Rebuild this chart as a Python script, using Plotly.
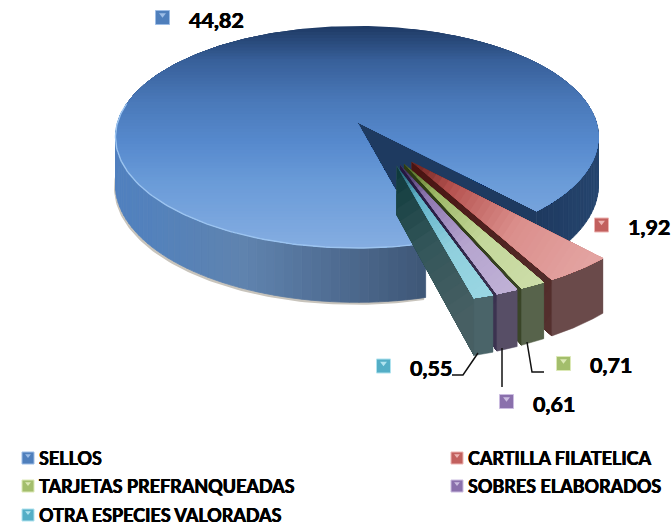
import math
import plotly.graph_objects as go

# ---- data
names = ["SELLOS", "CARTILLA FILATELICA", "TARJETAS PREFRANQUEADAS", "SOBRES ELABORADOS", "OTRA ESPECIES VALORADAS"]
values = [44.82, 1.92, 0.71, 0.61, 0.55]
labels = ["44,82", "1,92", "0,71", "0,61", "0,55"]

# ---- styling
swatch = ["#4F7FBC", "#C2605E", "#A3BE6C", "#8A70AC", "#54AEC6"]
swatch_light = ["#9DBDE6", "#EDB4B2", "#DCE9B6", "#CBBCE0", "#B0E3EF"]
top_ramp = [
    [(0, "#6E2220"), (.22, "#B5524F"), (.6, "#DB8F8C"), (1, "#E3A3A1")],
    [(0, "#4E6520"), (.22, "#9DB765"), (.6, "#C4D79B"), (1, "#CCDDA8")],
    [(0, "#3B2A5A"), (.22, "#8C75AE"), (.6, "#B5A4CE"), (1, "#C0B1D6")],
    [(0, "#1D5A6C"), (.22, "#5FB0C6"), (.6, "#8FCFDD"), (1, "#9AD6E3")],
]
side_ramp = [
    [(0, "#4A1412"), (1, "#54302E")],
    [(0, "#2C3A12"), (1, "#3A4528")],
    [(0, "#241840"), (1, "#3C3350")],
    [(0, "#0F3A3C"), (.5, "#34565A"), (1, "#475F63")],
]
rim_col = ["#6A4A4A", "#57634B", "#574E66", "#4A6469"]
big_top = [(0, "#1F3B66"), (.15, "#38609A"), (.33, "#4A79B9"), (.51, "#5689CD"),
           (.69, "#6A9BD8"), (1, "#86AEE2")]
big_rim = [(117, "#5080BF"), (170, "#5582BA"), (250, "#5F83AE"), (340, "#4F6C92"), (425, "#3F5878")]
big_back = [(535, "#1E3A60"), (600, "#26466F")]

# ---- projection of the pie plane (perspective view)
APEX_X, APEX_Y, R, A, C, H, EXPLODE, SMALL_R, SPREAD = 357, 122, 239.3, 92.5, .135, 47, .41, .98, .5
EMBOLDEN = "0.35px 0 0 #000, -0.35px 0 0 #000"


def proj(u, v, h=0):
    w = 1 - C * v
    return APEX_X + R * u / w, (APEX_Y + A * v + h) / w


def hex2(c):
    return [int(c[i:i + 2], 16) for i in (1, 3, 5)]


def ramp(stops, t):
    if t <= stops[0][0]:
        return stops[0][1]
    for (a, ca), (b, cb) in zip(stops, stops[1:]):
        if t <= b:
            f = (t - a) / (b - a)
            x, y = hex2(ca), hex2(cb)
            return "#%02x%02x%02x" % tuple(round(p + (q - p) * f) for p, q in zip(x, y))
    return stops[-1][1]


def clip(poly, nx, ny, d):
    out = []
    for i in range(len(poly)):
        p, q = poly[i], poly[(i + 1) % len(poly)]
        sp, sq = p[0] * nx + p[1] * ny - d, q[0] * nx + q[1] * ny - d
        if sp >= 0:
            out.append(p)
        if (sp >= 0) != (sq >= 0):
            f = sp / (sp - sq)
            out.append((p[0] + (q[0] - p[0]) * f, p[1] + (q[1] - p[1]) * f))
    return out


fig = go.Figure()


def fill(poly, color, edge=0.0):
    if len(poly) < 3:
        return
    xs = [p[0] for p in poly] + [poly[0][0]]
    ys = [p[1] for p in poly] + [poly[0][1]]
    fig.add_trace(go.Scatter(x=xs, y=ys, mode="lines", fill="toself", fillcolor=color,
                             line=dict(color=color, width=edge), hoverinfo="skip", showlegend=False))


def graded(poly, stops, nx, ny, d0, d1, n):
    for i in range(n):
        t = i / (n - 1)
        fill(clip(poly, nx, ny, d0 + (d1 - d0) * t) if i else poly, ramp(stops, t))


def arc(a0, a1, ox=0, oy=0, h=0, step=1.0, r=1.0):
    n = max(2, int(abs(a1 - a0) / step) + 1)
    pts = []
    for i in range(n):
        t = math.radians(a0 + (a1 - a0) * i / (n - 1))
        pts.append(proj(ox + r * math.cos(t), oy + r * math.sin(t), h))
    return pts


total = sum(values)
sweeps = [v / total * 360 for v in values]
gap_start = 47.5
gap_end = gap_start + sum(sweeps[1:])
gap_mid = (gap_start + gap_end) / 2

# ---- large slice
sh = arc(gap_end, 185, h=H)
fill([(x - 1.5, y + 2.5) for x, y in sh] + arc(185, gap_end), "#C8C4BC")

back_top = proj(0, 0)
back_bot = proj(0, 0, H)
cut = arc(gap_start, gap_start)[0]
cutb = arc(gap_start, gap_start, h=H)[0]
fill([back_top, cut, cutb, back_bot], "#1E3A60")
a = gap_start
while a > -3:
    b = a - 2
    q = arc(a, b) + arc(b, a, h=H)
    fill(q, ramp(big_back, q[0][0]), 0.8)
    a = b
a = gap_end
while a < 185:
    b = min(a + 2, 186)
    q = arc(a, b) + arc(b, a, h=H)
    fill(q, ramp(big_rim, q[0][0]), 0.8)
    a = b

big_poly = [proj(0, 0)] + arc(gap_end, gap_start + 360)
graded(big_poly, big_top, 0, 1, 26, 250, 75)
edge = arc(gap_end, 190)
fig.add_trace(go.Scatter(x=[p[0] for p in edge], y=[p[1] for p in edge], mode="lines",
                         line=dict(color="#9CC4F0", width=1.4), hoverinfo="skip", showlegend=False))

# ---- exploded slices, back to front
a0 = gap_start
for k in range(1, len(values)):
    a1 = a0 + sweeps[k]
    bis = (a0 + a1) / 2
    mid = math.radians(gap_mid + SPREAD * (bis - gap_mid))
    ox, oy = EXPLODE * math.cos(mid), EXPLODE * math.sin(mid)
    tip, tipb = proj(ox, oy), proj(ox, oy, H)
    outer = arc(a0, a1, ox, oy, step=.5, r=SMALL_R)
    outerb = arc(a0, a1, ox, oy, H, step=.5, r=SMALL_R)
    mx, my = arc(bis, bis, ox, oy, r=SMALL_R)[0]
    L = math.hypot(mx - tip[0], my - tip[1])
    nx, ny = (mx - tip[0]) / L, (my - tip[1]) / L
    d0 = tip[0] * nx + tip[1] * ny
    fill([tip, outer[0], outerb[0], tipb], rim_col[k - 1])
    graded([tip, outer[-1], outerb[-1], tipb], side_ramp[k - 1], nx, ny, d0, d0 + L, 14)
    fill(outer + outerb[::-1], rim_col[k - 1], 0.5)
    graded([tip] + outer, top_ramp[k - 1], nx, ny, d0, d0 + L, 30)
    a0 = a1

# ---- leader lines
leaders = [([478, 463, 452], [353, 375, 375]), ([502, 502], [348, 387]), ([527, 532, 544], [342, 372, 372])]
for xs, ys in leaders:
    fig.add_trace(go.Scatter(x=xs, y=ys, mode="lines", line=dict(color="#111111", width=1.5),
                             hoverinfo="skip", showlegend=False))


# ---- swatches and texts
def mark(x, y, idx, size, tri):
    fig.add_trace(go.Scatter(x=[x], y=[y], mode="markers", marker=dict(symbol="square", size=size, color=swatch[idx],
                             line=dict(color=swatch_light[idx], width=1)), hoverinfo="skip", showlegend=False))
    fig.add_trace(go.Scatter(x=[x], y=[y - size * .2], mode="markers", marker=dict(symbol="triangle-down", size=tri,
                             color=swatch_light[idx]), hoverinfo="skip", showlegend=False))


label_pos = [(162.5, 17.5, 187, 19.5), (601.5, 225, 626, 227), (563.5, 363.5, 588, 365),
             (506.5, 401.5, 531, 404), (383.5, 366, 408, 368)]
for i, (mx, my, tx, ty) in enumerate(label_pos):
    mark(mx, my, i, 14, 6)
    fig.add_annotation(x=tx, y=ty, text="<b>%s</b>" % labels[i], showarrow=False, xanchor="left", yanchor="middle",
                       font=dict(family="Lato", size=21.5, color="#000000", shadow=EMBOLDEN))

legend_pos = [(28, 458), (457, 458), (28, 486), (457, 486), (28, 515)]
for i, (lx, ly) in enumerate(legend_pos):
    mark(lx, ly, i, 12, 5)
    fig.add_annotation(x=lx + 9, y=ly, text="<b>%s</b>" % names[i], showarrow=False, xanchor="left", yanchor="middle",
                       font=dict(family="Lato", size=18, color="#000000", shadow=EMBOLDEN))

fig.update_layout(width=672, height=526, margin=dict(l=0, r=0, t=0, b=0), paper_bgcolor="#FFFFFF",
                  plot_bgcolor="#FFFFFF", showlegend=False, dragmode=False,
                  xaxis=dict(range=[0, 672], visible=False, fixedrange=True),
                  yaxis=dict(range=[526, 0], visible=False, fixedrange=True))
fig.write_html("out.html", post_script="document.body.style.margin='0';", config=dict(displayModeBar=False))
